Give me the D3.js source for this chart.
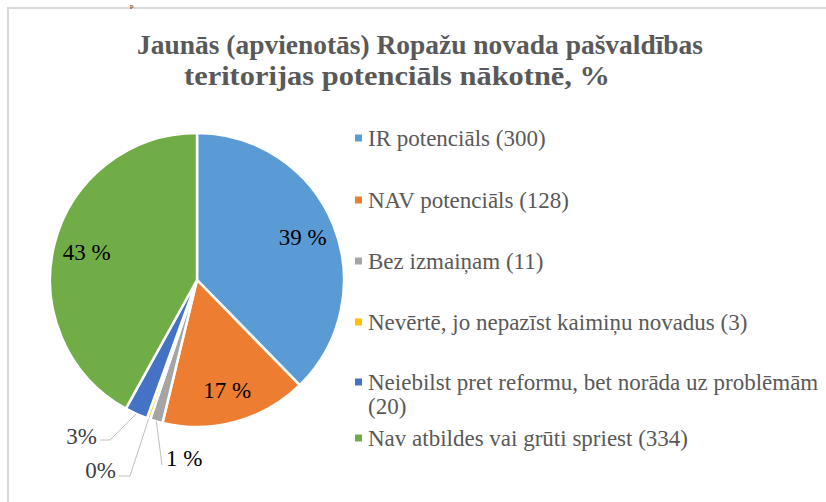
<!DOCTYPE html>
<html>
<head>
<meta charset="utf-8">
<script src="https://cdn.jsdelivr.net/npm/d3@7"></script>
<style>
  body { margin: 0; background: #fff; }
  svg { display: block; }
  text { font-family: 'Liberation Serif', 'Times New Roman', 'DejaVu Serif', serif; }
</style>
</head>
<body>
<div id="chart"></div>
<script>
// data
var categories = [
  'IR potenciāls (300)',
  'NAV potenciāls (128)',
  'Bez izmaiņam (11)',
  'Nevērtē, jo nepazīst kaimiņu novadus (3)',
  'Neiebilst pret reformu, bet norāda uz problēmām (20)',
  'Nav atbildes vai grūti spriest (334)'
]
var counts = [300, 128, 11, 3, 20, 334]
var pctLabels = ['39 %', '17 %', '1 %', '0%', '3%', '43 %']
var colors = ['#5b9bd5', '#ed7d31', '#a5a5a5', '#ffc000', '#4472c4', '#70ad47']

var width = 826
var height = 502

var svg = d3.select('#chart')
  .append('svg')
  .attr('width', width)
  .attr('height', height)

// frame (left + top edge only visible)
svg.append('path')
  .attr('d', `M8,${height} L8,8 L${width},8`)
  .attr('fill', 'none')
  .attr('stroke', '#d9d9d9')
  .attr('stroke-width', 2)

// stray glyph at the top of the page
svg.append('text')
  .text('p')
  .attr('x', 130)
  .attr('y', 8)
  .attr('font-size', 7)
  .attr('fill', '#000')

// title
var titleLines = [
  { text: 'Jaunās (apvienotās) Ropažu novada pašvaldības', cx: 420, y: 54, w: 566 },
  { text: 'teritorijas potenciāls nākotnē, %', cx: 397, y: 85, w: 426 }
]
svg.selectAll('.title')
  .data(titleLines)
  .enter()
  .append('text')
  .attr('class', 'title')
  .text(d => d.text)
  .attr('x', d => d.cx)
  .attr('y', d => d.y)
  .attr('text-anchor', 'middle')
  .attr('font-weight', 'bold')
  .attr('font-size', 27)
  .attr('fill', '#595959')
  .attr('textLength', d => d.w)
  .attr('lengthAdjust', 'spacingAndGlyphs')

// pie
var cx = 197
var cy = 280
var radius = 147

var pie = d3.pie().sort(null).value(d => d)
var arcs = pie(counts)

var arc = d3.arc().innerRadius(0).outerRadius(radius)
var labelArc = d3.arc().innerRadius(114).outerRadius(114)
var edgeArc = d3.arc().innerRadius(radius).outerRadius(radius)

var g = svg.append('g').attr('transform', `translate(${cx}, ${cy})`)

g.selectAll('.slice')
  .data(arcs)
  .enter()
  .append('path')
  .attr('class', 'slice')
  .attr('d', arc)
  .attr('fill', (d, i) => colors[i])
  .attr('stroke', '#fff')
  .attr('stroke-width', 2.5)

// labels inside big slices
var inside = [0, 1, 5]
g.selectAll('.in-label')
  .data(inside)
  .enter()
  .append('text')
  .attr('class', 'in-label')
  .text(i => pctLabels[i])
  .attr('transform', i => `translate(${labelArc.centroid(arcs[i])})`)
  .attr('text-anchor', 'middle')
  .attr('dy', '0.35em')
  .attr('font-size', 23)
  .attr('fill', '#000')

// small slices get leader lines (elbow points relative to pie centre)
var leaders = [
  { i: 2, elbow: [-35, 185], end: [-35, 185], anchor: 'start', tx: -31, ty: 178, color: '#000' },
  { i: 3, elbow: [-67, 196], end: [-78, 196], anchor: 'end', tx: -81, ty: 190, color: '#404040' },
  { i: 4, elbow: [-87, 160], end: [-97, 160], anchor: 'end', tx: -100, ty: 156, color: '#404040' }
]
leaders.forEach(function(l) {
  var p = edgeArc.centroid(arcs[l.i])
  g.append('polyline')
    .attr('points', [p, l.elbow, l.end].map(q => q.join(',')).join(' '))
    .attr('fill', 'none')
    .attr('stroke', '#bfbfbf')
    .attr('stroke-width', 1)
  g.append('text')
    .text(pctLabels[l.i])
    .attr('x', l.tx)
    .attr('y', l.ty)
    .attr('dy', '0.35em')
    .attr('text-anchor', l.anchor)
    .attr('font-size', 23)
    .attr('fill', l.color)
})

// legend
var legendY = [138, 200, 261, 322, 382, 438]
var legend = svg.append('g').attr('transform', 'translate(355, 0)')

var item = legend.selectAll('.item')
  .data(categories)
  .enter()
  .append('g')
  .attr('class', 'item')
  .attr('transform', (d, i) => `translate(0, ${legendY[i]})`)

item.append('rect')
  .attr('x', 0)
  .attr('y', -3.5)
  .attr('width', 7)
  .attr('height', 7)
  .attr('fill', (d, i) => colors[i])

item.append('text')
  .attr('x', 13)
  .attr('dy', '0.35em')
  .attr('font-size', 23)
  .attr('fill', '#595959')
  .each(function(d) {
    // wrap the long entry onto two lines like the original
    var t = d3.select(this)
    var m = d.match(/^(.*problēmām) (\(\d+\))$/)
    if (m) {
      t.append('tspan').attr('x', 13).text(m[1])
      t.append('tspan').attr('x', 13).attr('dy', 24).text(m[2])
    } else {
      t.text(d)
    }
  })
</script>
</body>
</html>
